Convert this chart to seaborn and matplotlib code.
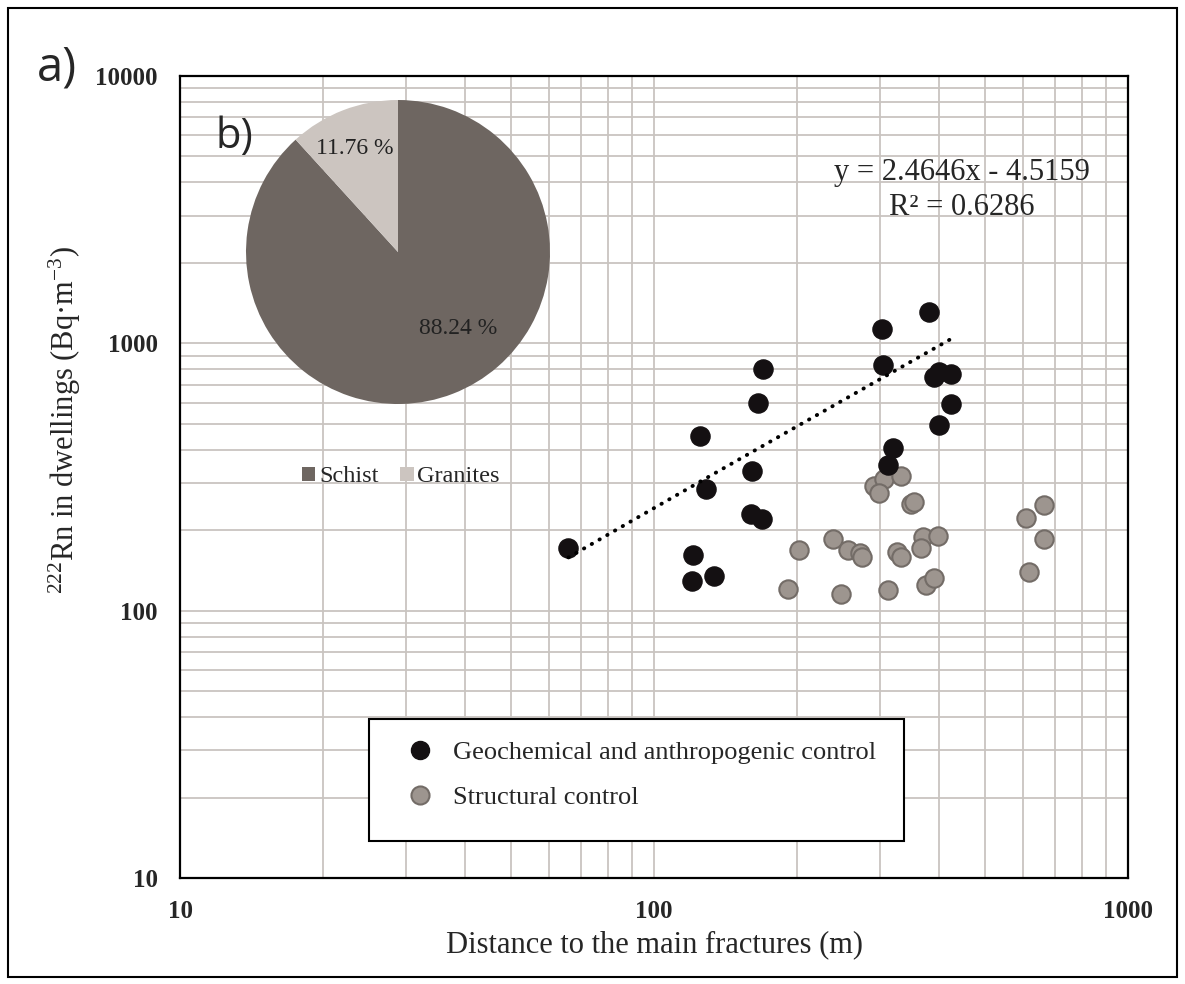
import matplotlib
matplotlib.use("Agg")
import matplotlib.pyplot as plt
import matplotlib.ticker as mticker
from matplotlib.patches import Rectangle, Patch
from matplotlib.lines import Line2D
import numpy as np
import pandas as pd
import seaborn as sns

# ---------------- data ----------------
geo_x = [66, 125, 129, 121, 120, 134, 170, 166, 161, 160, 169,
         303, 304, 381, 400, 389, 423, 424, 400, 320, 311]
geo_y = [172, 449, 284, 161, 129, 135, 802, 596, 334, 229, 221,
         1128, 830, 1309, 782, 751, 766, 593, 495, 405, 351]

str_x = [202, 192, 239, 257, 272, 275, 248, 311, 291, 306, 298, 332,
         348, 354, 369, 398, 366, 326, 332, 375, 390, 608, 665, 665, 617]
str_y = [169, 120, 186, 168, 165, 159, 115, 119, 292, 311, 275, 320,
         251, 255, 189, 191, 171, 166, 159, 125, 133, 223, 249, 185, 140]

group_names = ["Geochemical and anthropogenic control", "Structural control"]

trend_slope = 2.4646
trend_intercept = -4.5159
trend_r2 = 0.6286

pie_labels = ["Schist", "Granites"]
pie_values = [88.24, 11.76]

x_ticks = [10, 100, 1000]
y_ticks = [10, 100, 1000, 10000]

# ---------------- style ----------------
sns.set_style("white")
plt.rcParams["font.family"] = ["Liberation Serif", "DejaVu Serif"]
plt.rcParams["mathtext.fontset"] = "custom"
plt.rcParams["mathtext.rm"] = "Liberation Serif"
plt.rcParams["mathtext.it"] = "Liberation Serif:italic"

W, H = 1185, 984
fig = plt.figure(figsize=(W / 100, H / 100), dpi=100)
fig.patch.set_facecolor("white")

L, R, T, B = 180, 1128, 76, 878
ax = fig.add_axes([L / W, 1 - B / H, (R - L) / W, (B - T) / H])

df = pd.DataFrame({
    "x": geo_x + str_x,
    "y": geo_y + str_y,
    "group": [group_names[0]] * len(geo_x) + [group_names[1]] * len(str_x),
})

sns.scatterplot(data=df[df.group == group_names[0]], x="x", y="y", ax=ax,
                color="#141012", edgecolor="#141012", s=190, linewidth=1,
                legend=False, zorder=4)
sns.scatterplot(data=df[df.group == group_names[1]], x="x", y="y", ax=ax,
                color="#9d958f", edgecolor="#736c67", s=175, linewidth=1.5,
                legend=False, zorder=3)

# trend line (linear fit drawn over the range of the first group)
tx = np.linspace(min(geo_x), max(geo_x), 200)
ty = trend_slope * tx + trend_intercept
sns.lineplot(x=tx, y=ty, ax=ax, color="black", lw=2.8,
             linestyle=(0, (0.1, 2.2)), dash_capstyle="round", zorder=5,
             legend=False)

ax.set_xscale("log")
ax.set_yscale("log")
ax.set_xlim(10, 1000)
ax.set_ylim(10, 10000)

ax.xaxis.set_major_locator(mticker.FixedLocator(x_ticks))
ax.yaxis.set_major_locator(mticker.FixedLocator(y_ticks))
ax.xaxis.set_minor_locator(mticker.LogLocator(base=10, subs=np.arange(2, 10)))
ax.yaxis.set_minor_locator(mticker.LogLocator(base=10, subs=np.arange(2, 10)))
fmt = mticker.FuncFormatter(lambda v, p: f"{v:g}")
ax.xaxis.set_major_formatter(fmt)
ax.yaxis.set_major_formatter(fmt)
ax.xaxis.set_minor_formatter(mticker.NullFormatter())
ax.yaxis.set_minor_formatter(mticker.NullFormatter())

ax.grid(True, which="both", color="#c9c4c0", lw=1.3, zorder=0)
ax.set_axisbelow(True)
for s in ax.spines.values():
    s.set_color("black")
    s.set_linewidth(1.6)
    s.set_zorder(6)

ax.tick_params(which="both", direction="in", length=6, width=1.3,
               color="black", top=False, right=False)
ax.tick_params(axis="x", which="major", pad=16, labelsize=18)
ax.tick_params(axis="y", which="major", pad=16, labelsize=18)
for lab in ax.get_xticklabels() + ax.get_yticklabels():
    lab.set_fontweight("bold")

ax.set_xlabel("Distance to the main fractures (m)", fontsize=22)
ax.xaxis.set_label_coords((655 - L) / (R - L), (B - 945) / (B - T))
ax.xaxis.label.set_va("center")
ax.set_ylabel(r"$\mathregular{^{222}}$Rn in dwellings (Bq·m$\mathregular{^{-3}}$)",
              fontsize=22)
ax.yaxis.label.set_visible(False)
fig.text(65 / W, 1 - 420 / H, ax.get_ylabel(), rotation=90, ha="center",
         va="center", fontsize=22)

# equation text
ax.text((962 - L) / (R - L), (B - 190) / (B - T),
        f"y = {trend_slope}x - {abs(trend_intercept)}\nR² = {trend_r2}",
        transform=ax.transAxes, ha="center", va="center", fontsize=22,
        linespacing=1.3, multialignment="center", zorder=7)

# scatter legend box
bx0, by0, bx1, by1 = 369, 719, 904, 841
ax.add_patch(Rectangle(((bx0 - L) / (R - L), (B - by1) / (B - T)),
                       (bx1 - bx0) / (R - L), (by1 - by0) / (B - T),
                       transform=ax.transAxes, facecolor="white",
                       edgecolor="black", lw=1.5, zorder=8))
handles = [
    Line2D([], [], ls="none", marker="o", markersize=13,
           markerfacecolor="#141012", markeredgecolor="#141012"),
    Line2D([], [], ls="none", marker="o", markersize=13,
           markerfacecolor="#9d958f", markeredgecolor="#736c67",
           markeredgewidth=1.5),
]
leg = ax.legend(handles, group_names, loc="upper left",
                bbox_to_anchor=((404 - L) / (R - L), (B - 741) / (B - T)),
                frameon=False, fontsize=19, handlelength=1.2,
                handletextpad=0.65, labelspacing=0.8, borderpad=0,
                borderaxespad=0)
leg.set_zorder(9)

# ---------------- pie inset ----------------
cx, cy, rad = 398, 252, 152
pax = fig.add_axes([(cx - rad) / W, 1 - (cy + rad) / H, 2 * rad / W, 2 * rad / H])
pie_colors = ["#6e6661", "#ccc5c0"]
pax.pie(pie_values, colors=pie_colors, startangle=90, counterclock=False,
        radius=1.0, wedgeprops=dict(linewidth=0))
pax.set_xlim(-1, 1)
pax.set_ylim(-1, 1)
pax.set_aspect("equal")
pax.axis("off")
label_pos = [(0.395, -0.50), (-0.283, 0.684)]
for (px, py), v in zip(label_pos, pie_values):
    pax.text(px, py, f"{v:.2f} %", ha="center", va="center", fontsize=17,
             color="#222222")

fig.legend([Patch(facecolor=c, edgecolor="none") for c in pie_colors],
           pie_labels, loc="center left",
           bbox_to_anchor=(302 / W, 1 - 477 / H), frameon=False, ncol=2,
           fontsize=17.5, handlelength=0.55, handleheight=0.55,
           handletextpad=0.15, columnspacing=0.9, borderpad=0,
           borderaxespad=0)

# panel labels
fig.text(57 / W, 1 - 68 / H, "a)", ha="center", va="center", fontsize=34,
         family=["Open Sans", "DejaVu Sans"])
fig.text(234 / W, 1 - 137 / H, "b)", ha="center", va="center", fontsize=30,
         family=["Open Sans", "DejaVu Sans"])

# outer frame
fig.add_artist(Rectangle((8 / W, 1 - 977 / H), (1177 - 8) / W, (977 - 8) / H,
                         transform=fig.transFigure, fill=False,
                         edgecolor="black", lw=1.5))

fig.savefig("out.png", dpi=100, facecolor="white")
